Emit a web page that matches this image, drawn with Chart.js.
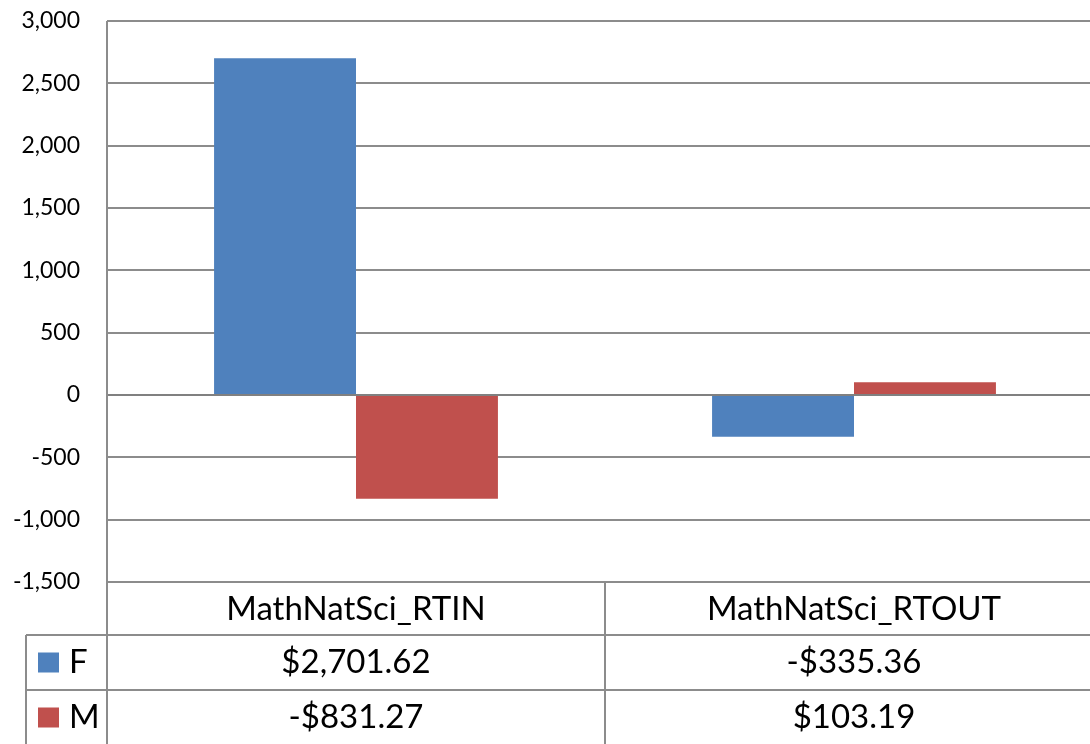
<!DOCTYPE html>
<html lang="en">
<head>
    <meta charset="UTF-8">
    <title>MathNatSci RTIN / RTOUT</title>
    <script src="https://cdn.jsdelivr.net/npm/chart.js@4.4.0/dist/chart.umd.min.js"></script>
    <style>
        html, body {
            margin: 0;
            padding: 0;
            background: #fff;
            overflow: hidden;
        }
        #wrap {
            width: 1110px;
            height: 744px;
        }
    </style>
</head>
<body>
    <div id="wrap"><canvas id="chart" width="1110" height="744"></canvas></div>

    <script>
        // Chart data
        const categories = ['MathNatSci_RTIN', 'MathNatSci_RTOUT'];
        const seriesNames = ['F', 'M'];
        const valuesF = [2701.62, -335.36];
        const valuesM = [-831.27, 103.19];
        const yMin = -1500;
        const yMax = 3000;
        const yStep = 500;

        const colors = ['#4F81BD', '#C0504D'];
        const lineColor = '#8c8c8c';
        const fontFamily = 'Lato, "Open Sans", sans-serif';

        // Excel style currency text for the data table
        function money(v) {
            const s = Math.abs(v).toLocaleString('en-US', { minimumFractionDigits: 2, maximumFractionDigits: 2 });
            return (v < 0 ? '-$' : '$') + s;
        }

        // Draws the data table under the plot (category row + one row per series)
        const dataTablePlugin = {
            id: 'dataTable',
            afterDraw(chart) {
                const ctx = chart.ctx;
                const area = chart.chartArea;
                const x = chart.scales.x;
                const headTop = area.bottom;
                const rowTops = [635, 690];
                const rowBottom = 746;
                const tableLeft = 26;

                ctx.save();
                ctx.strokeStyle = lineColor;
                ctx.lineWidth = 2;
                ctx.beginPath();
                // y axis line running down through the table
                ctx.moveTo(area.left, area.top);
                ctx.lineTo(area.left, rowBottom);
                // row lines
                rowTops.forEach(y => {
                    ctx.moveTo(tableLeft, y);
                    ctx.lineTo(area.right, y);
                });
                // left border of the legend column
                ctx.moveTo(tableLeft, rowTops[0]);
                ctx.lineTo(tableLeft, rowBottom);
                // category separators
                const half = (x.getPixelForValue(1) - x.getPixelForValue(0)) / 2;
                for (let i = 0; i < categories.length; i++) {
                    const c = x.getPixelForValue(i);
                    ctx.moveTo(c + half, headTop);
                    ctx.lineTo(c + half, rowBottom);
                }
                ctx.stroke();

                ctx.fillStyle = '#000';
                ctx.font = '33px ' + fontFamily;
                ctx.textAlign = 'center';
                ctx.textBaseline = 'middle';
                categories.forEach((cat, i) => {
                    ctx.fillText(cat, x.getPixelForValue(i), (headTop + rowTops[0]) / 2 + 1);
                });

                const rows = [valuesF, valuesM];
                rows.forEach((vals, r) => {
                    const top = rowTops[r];
                    const bottom = r + 1 < rowTops.length ? rowTops[r + 1] : 745;
                    const cy = (top + bottom) / 2;
                    vals.forEach((v, i) => {
                        ctx.fillStyle = '#000';
                        ctx.textAlign = 'center';
                        ctx.fillText(money(v), x.getPixelForValue(i), cy);
                    });
                    // legend key
                    ctx.fillStyle = colors[r];
                    ctx.fillRect(38, cy - 10, 21, 20);
                    ctx.fillStyle = '#000';
                    ctx.textAlign = 'left';
                    ctx.fillText(seriesNames[r], 69, cy);
                });
                ctx.restore();
            }
        };

        new Chart(document.getElementById('chart'), {
            type: 'bar',
            data: {
                labels: categories,
                datasets: [
                    { label: seriesNames[0], data: valuesF, backgroundColor: colors[0] },
                    { label: seriesNames[1], data: valuesM, backgroundColor: colors[1] }
                ]
            },
            options: {
                responsive: false,
                animation: false,
                layout: { padding: { top: 21, bottom: 162, left: 0, right: 7 } },
                datasets: {
                    bar: { categoryPercentage: 0.57, barPercentage: 1.0 }
                },
                plugins: {
                    legend: { display: false },
                    tooltip: { enabled: false }
                },
                scales: {
                    x: {
                        display: false
                    },
                    y: {
                        min: yMin,
                        max: yMax,
                        afterFit(scale) {
                            scale.width = 107;
                            scale.paddingTop = 0;
                            scale.paddingBottom = 0;
                        },
                        ticks: {
                            stepSize: yStep,
                            padding: 27,
                            color: '#000',
                            font: { family: fontFamily, size: 23 },
                            callback: v => v.toLocaleString('en-US')
                        },
                        grid: {
                            drawTicks: false,
                            color: ctx => ctx.tick && ctx.tick.value === 0 ? '#808080' : lineColor,
                            lineWidth: 2
                        },
                        border: { display: false }
                    }
                }
            },
            plugins: [dataTablePlugin]
        });
    </script>
</body>
</html>
